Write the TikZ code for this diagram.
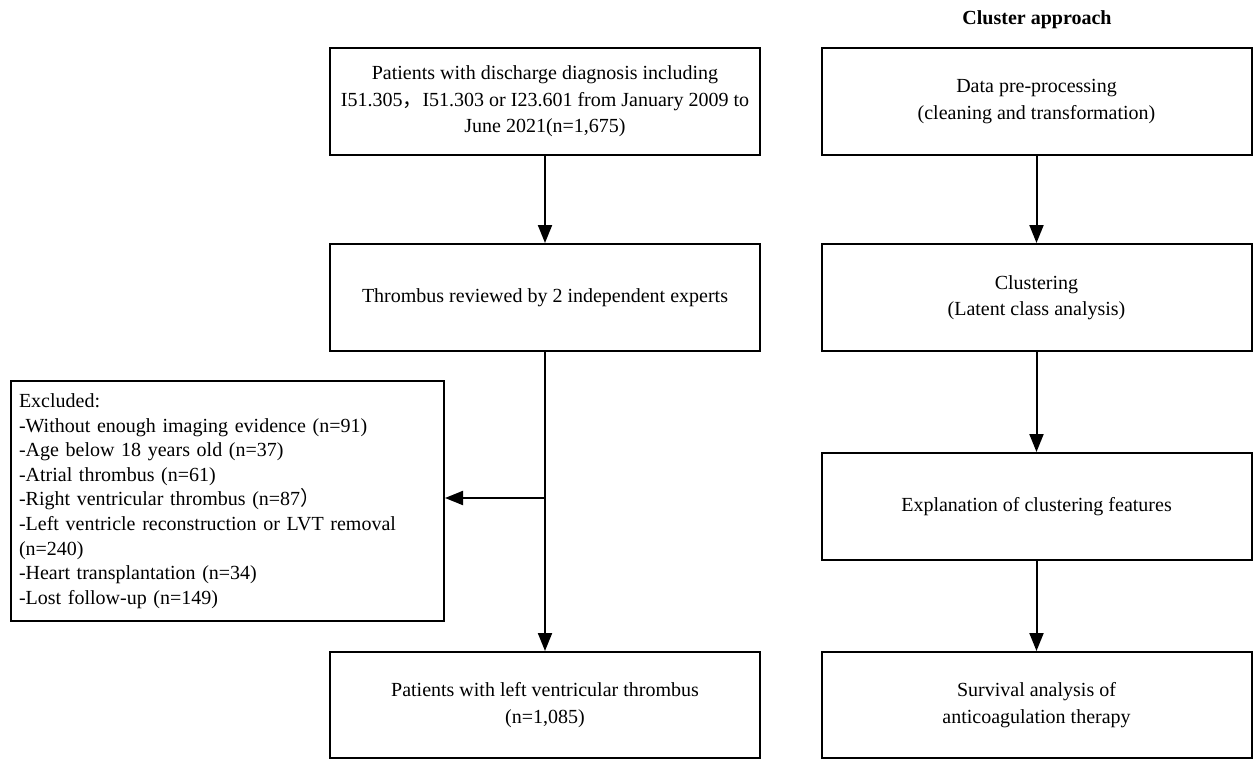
\documentclass[tikz,border=0pt]{standalone}
\usepackage{fontspec}
\setmainfont{Liberation Serif}
\newfontfamily\cjk{Noto Sans CJK SC}
\usetikzlibrary{arrows.meta}

\begin{document}
\begin{tikzpicture}[x=1pt,y=-1pt,font=\fontsize{20}{26.5}\selectfont,
		box/.style={draw, line width=2pt, minimum width=430pt, minimum height=107pt, align=center},
		pfeil/.style={-{Triangle[length=18pt,width=14pt]}, line width=2pt}]
		\useasboundingbox (0,0) rectangle (1255,760);
		
		% Linke Spalte
		\node[box] (diag) at (545,101.5) {Patients with discharge diagnosis including\\I51.305{\cjk ，}I51.303 or I23.601 from January 2009 to\\June 2021(n=1,675)};
		\node[box] (review) at (545,297.5) {Thrombus reviewed by 2 independent experts};
		\node[box, minimum height=106pt] (lvt) at (545,705) {Patients with left ventricular thrombus\\(n=1,085)};
		
		% Ausschluss
		\node[draw, line width=2pt, anchor=north west, align=left, text width=417pt, inner xsep=8pt, minimum height=240pt, font=\fontsize{20}{24.6}\selectfont] (excl) at (10,380) {Excluded:\\
			-Without enough imaging evidence (n=91)\\
			-Age below 18 years old (n=37)\\
			-Atrial thrombus (n=61)\\
			-Right ventricular thrombus (n=87{\cjk ）}\\
			-Left ventricle reconstruction or LVT removal\\
			(n=240)\\
			-Heart transplantation (n=34)\\
			-Lost follow-up (n=149)};
		\coordinate (knick) at (545,498);
		
		\draw[pfeil] (diag) -- (review);
		\draw[pfeil] (review) -- (lvt);
		\draw[pfeil] (knick) -- (knick -| excl.east);
		
		% Rechte Spalte
		\node[font=\fontsize{20}{26}\selectfont\bfseries] (titel) at (1037,20) {Cluster approach};
		\node[box] (prep) at (1036.5,101.5) {Data pre-processing\\(cleaning and transformation)};
		\node[box] (clust) at (1036.5,297.5) {Clustering\\(Latent class analysis)};
		\node[box] (expl) at (1036.5,506.5) {Explanation of clustering features};
		\node[box, minimum height=106pt] (surv) at (1036.5,705) {Survival analysis of\\anticoagulation therapy};
		
		\draw[pfeil] (prep) -- (clust);
		\draw[pfeil] (clust) -- (expl);
		\draw[pfeil] (expl) -- (surv);
		
	\end{tikzpicture}
\end{document}
